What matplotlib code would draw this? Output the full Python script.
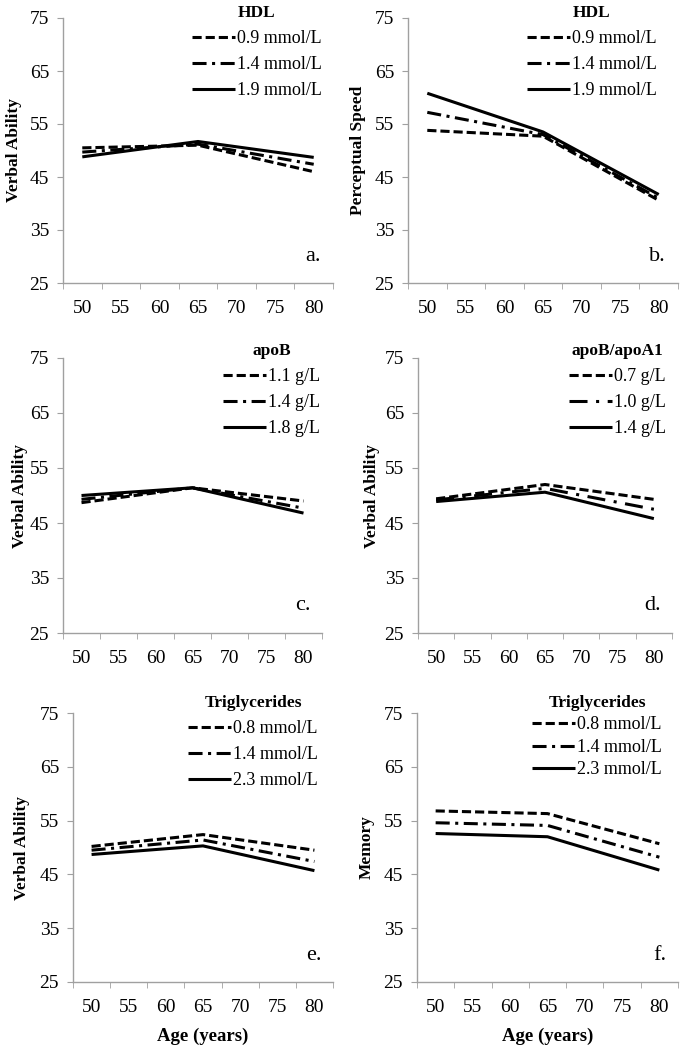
import matplotlib
matplotlib.use("Agg")
import matplotlib.pyplot as plt

plt.rcParams['font.family'] = ['Liberation Serif', 'DejaVu Serif']

# category axis (Excel style) and the three measured ages
ages = [50, 55, 60, 65, 70, 75, 80]
ages_measured = [50, 65, 80]

hdl_labels = ['0.9 mmol/L', '1.4 mmol/L', '1.9 mmol/L']
verbal_hdl = [[50.5, 51.0, 46.0], [49.7, 51.2, 47.4], [48.8, 51.7, 48.7]]
speed_hdl = [[53.8, 52.7, 40.6], [57.2, 53.0, 41.0], [60.8, 53.5, 41.7]]

apob_labels = ['1.1 g/L', '1.4 g/L', '1.8 g/L']
verbal_apob = [[48.7, 51.4, 49.0], [49.3, 51.4, 47.7], [50.0, 51.4, 46.8]]

ratio_labels = ['0.7 g/L', '1.0 g/L', '1.4 g/L']
verbal_ratio = [[49.4, 52.0, 49.3], [49.2, 51.3, 47.5], [48.9, 50.6, 45.8]]

tg_labels = ['0.8 mmol/L', '1.4 mmol/L', '2.3 mmol/L']
verbal_tg = [[50.2, 52.4, 49.5], [49.5, 51.4, 47.4], [48.7, 50.3, 45.7]]
memory_tg = [[56.8, 56.3, 50.7], [54.6, 54.1, 48.2], [52.6, 52.0, 45.8]]

W, H = 685, 1050
GRAY = '#a0a0a0'
DASH = (0, (3, 1.3))
DASHDOT = (0, (4.6, 1.8, 1, 1.8))
LONGDASHDOT = (0, (5.9, 2.8, 1, 2.8))

fig = plt.figure(figsize=(W / 100, H / 100), dpi=100)

panels = [
    dict(box=(63, 333, 18, 283), ylabel='Verbal Ability', title='HDL', labels=hdl_labels,
         values=verbal_hdl, mid=DASHDOT, letter='a.', ylab_x=14, leg=(322, 5), spacing=0.5),
    dict(box=(408, 678, 18, 283), ylabel='Perceptual Speed', title='HDL', labels=hdl_labels,
         values=speed_hdl, mid=DASHDOT, letter='b.', ylab_x=358, leg=(657, 5), spacing=0.5),
    dict(box=(63, 322, 358, 633), ylabel='Verbal Ability', title='apoB', labels=apob_labels,
         values=verbal_apob, mid=DASHDOT, letter='c.', ylab_x=20, leg=(320, 343), spacing=0.5),
    dict(box=(418, 672, 358, 633), ylabel='Verbal Ability', title='apoB/apoA1', labels=ratio_labels,
         values=verbal_ratio, mid=LONGDASHDOT, letter='d.', ylab_x=372, leg=(666, 343), spacing=0.5),
    dict(box=(73, 333, 713, 982), ylabel='Verbal Ability', title='Triglycerides', labels=tg_labels,
         values=verbal_tg, mid=DASHDOT, letter='e.', ylab_x=22, leg=(318, 695), spacing=0.5,
         xlabel=True),
    dict(box=(417, 678, 713, 982), ylabel='Memory', title='Triglycerides', labels=tg_labels,
         values=memory_tg, mid=DASHDOT, letter='f.', ylab_x=367, leg=(662, 695), spacing=0.3,
         xlabel=True),
]

for p in panels:
    left, right, top, bottom = p['box']
    ax = fig.add_axes([left / W, 1 - bottom / H, (right - left) / W, (bottom - top) / H])
    styles = ['-', p['mid'], DASH][::-1]
    for vals, lab, ls in zip(p['values'], p['labels'], styles):
        ax.plot(ages_measured, vals, color='black', lw=2.2, ls=ls, label=lab,
                solid_capstyle='butt', dash_capstyle='butt')

    ax.set_xlim(47.5, 82.5)
    ax.set_ylim(25, 75)
    ax.set_yticks(range(25, 76, 10))
    ax.set_xticks(ages)
    ax.set_xticks([a - 2.5 for a in ages] + [82.5], minor=True)
    ax.tick_params(axis='x', which='major', length=0, pad=12, labelsize=14)
    ax.tick_params(axis='x', which='minor', length=4, color=GRAY, direction='out')
    ax.tick_params(axis='y', length=4, color=GRAY, pad=6, labelsize=14)
    for s in ['top', 'right']:
        ax.spines[s].set_visible(False)
    for s in ['left', 'bottom']:
        ax.spines[s].set_color(GRAY)
        ax.spines[s].set_linewidth(1)

    ax.set_ylabel(p['ylabel'], fontsize=12.5, fontweight='bold', va='center')
    ax.yaxis.set_label_coords((p['ylab_x'] - left) / (right - left), 0.5)
    if p.get('xlabel'):
        ax.set_xlabel('Age (years)', fontsize=13.5, fontweight='bold')
        ax.xaxis.set_label_coords(0.5, -46 / (bottom - top))

    ax.text(0.955, 0.065, p['letter'], transform=ax.transAxes, fontsize=16,
            ha='right', va='bottom')

    lx, ly = p['leg']
    leg = ax.legend(loc='upper right', bbox_to_anchor=(lx / W, 1 - ly / H),
                    bbox_transform=fig.transFigure, frameon=False, title=p['title'],
                    fontsize=13, handlelength=2.4, handletextpad=0.1,
                    labelspacing=p['spacing'], borderpad=0, borderaxespad=0)
    leg.get_title().set_fontweight('bold')
    leg.get_title().set_fontsize(12.5)

fig.savefig('out.png', dpi=100)
